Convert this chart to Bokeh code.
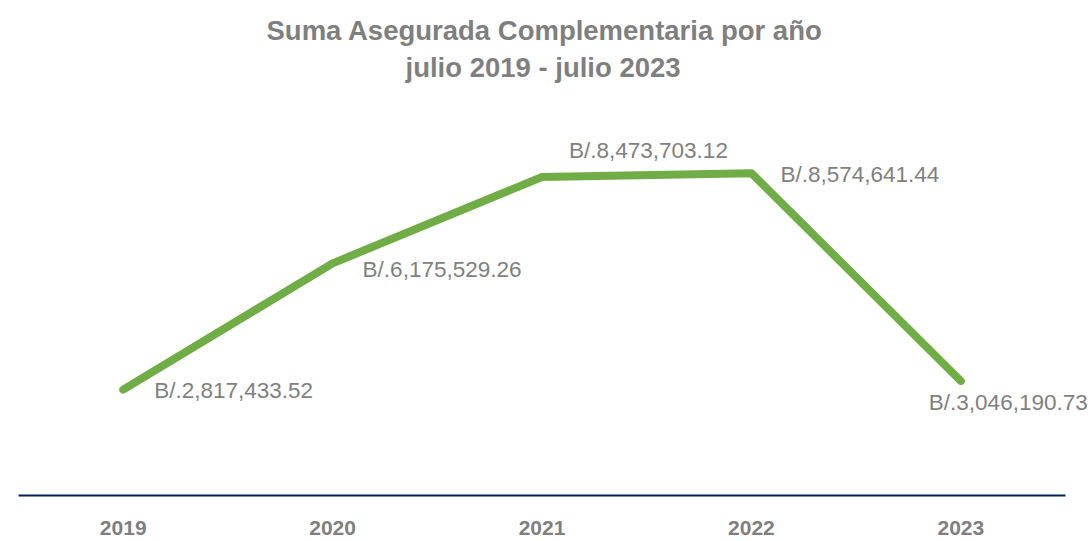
from bokeh.plotting import figure
from bokeh.models import Range1d, Title, ColumnDataSource, LabelSet, FixedTicker
from bokeh.core.properties import value
from bokeh.embed import file_html
from bokeh.resources import INLINE

years = [2019, 2020, 2021, 2022, 2023]
amounts = [2817433.52, 6175529.26, 8473703.12, 8574641.44, 3046190.73]
labels = ["B/." + f"{v:,.2f}" for v in amounts]

title_line1 = "Suma Asegurada Complementaria por año"
title_line2 = "julio 2019 - julio 2023"

FONT = "Liberation Sans, Arial, sans-serif"
GRAY = "#7f7f7f"

p = figure(width=1091, height=541,
           x_range=Range1d(years[0] - 0.5, years[-1] + 0.624),
           y_range=Range1d(0, 10.88e6),
           output_backend="svg", toolbar_location=None,
           min_border_left=18, min_border_right=0, min_border_bottom=46, min_border_top=86,
           title=title_line1)
p.title.align = "left"
p.title.offset = 248
p.title.text_font = FONT
p.title.text_font_size = "27.5px"
p.title.text_font_style = "bold"
p.title.text_color = GRAY
p.title.standoff = 0
p.add_layout(Title(text=title_line2, align="left", offset=387, text_font=FONT,
                   text_font_size="27.5px", text_font_style="bold", text_color=GRAY,
                   standoff=8), "above")

p.outline_line_color = None
p.background_fill_color = "white"
p.border_fill_color = "white"
p.xgrid.visible = False
p.ygrid.visible = False
p.yaxis.visible = False
p.xaxis.ticker = FixedTicker(ticks=years)
p.xaxis.bounds = (years[0] - 0.5, years[-1] + 0.5)
p.xaxis.axis_line_color = "#002060"
p.xaxis.axis_line_width = 2
p.xaxis.major_tick_line_color = None
p.xaxis.minor_tick_line_color = None
p.xaxis.major_label_text_font = FONT
p.xaxis.major_label_text_font_size = "21px"
p.xaxis.major_label_text_font_style = "bold"
p.xaxis.major_label_text_color = GRAY
p.xaxis.major_label_standoff = 19

src = ColumnDataSource(dict(x=years, y=amounts, label=labels,
                            xo=[31, 30, 27, 29, -32], yo=[-1, -6, 26, -1, -22]))

p.line(x="x", y="y", source=src, line_color="#70AD47", line_width=8,
       line_cap="round", line_join="round")
p.add_layout(LabelSet(x="x", y="y", text="label", source=src, x_offset="xo", y_offset="yo",
                      text_font=value(FONT), text_font_size="22.5px", text_color=GRAY,
                      text_align="left", text_baseline="middle"))

open("out.html", "w").write(file_html(p, INLINE))
